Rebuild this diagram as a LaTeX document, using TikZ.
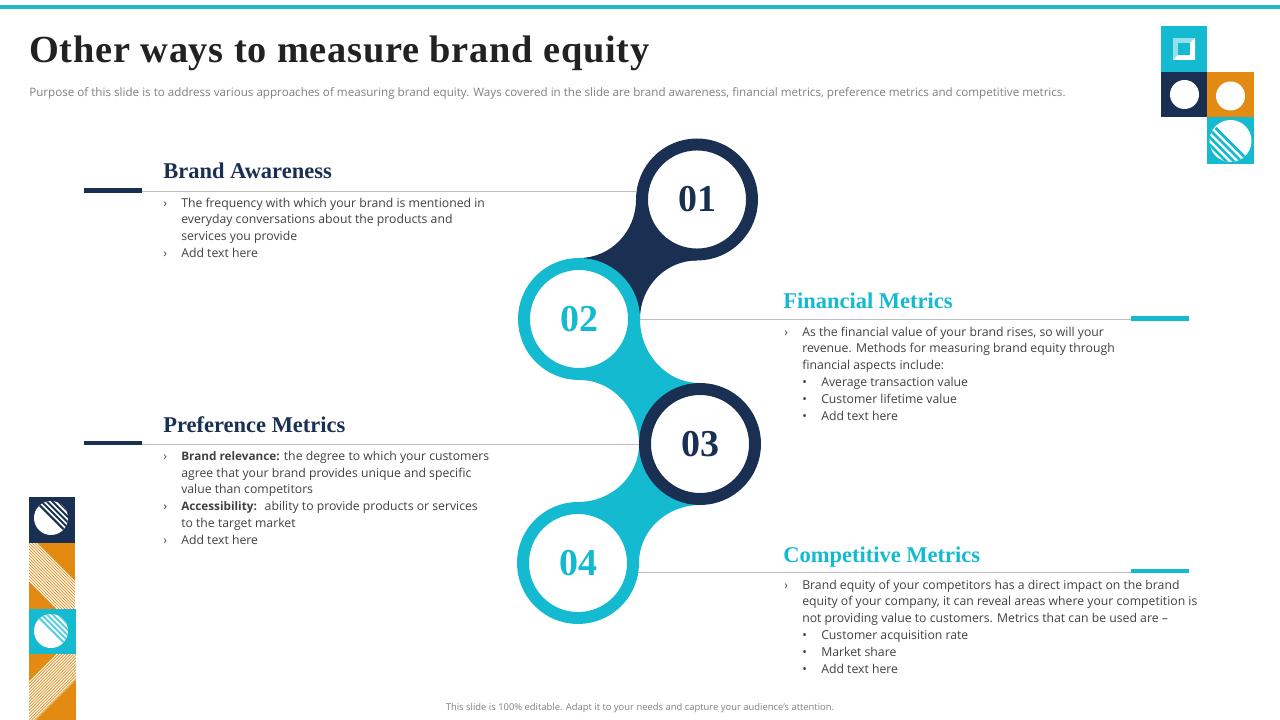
\documentclass[tikz,border=0pt]{standalone}
\usepackage{fontspec}
\setmainfont{Open Sans}
\newfontfamily\titlefont[LetterSpace=1.9]{Liberation Serif}
\newfontfamily\headfont{Liberation Serif}
\usetikzlibrary{backgrounds}
\definecolor{navy}{HTML}{1A3052}
\definecolor{teal}{HTML}{14BAD0}
\definecolor{topteal}{HTML}{22B8C8}
\definecolor{amber}{HTML}{E38A12}
\definecolor{rulegray}{HTML}{BDBDBD}
\definecolor{bodygray}{HTML}{404040}
\definecolor{notegray}{HTML}{7F7F7F}
\definecolor{titlegray}{HTML}{222222}
\tikzset{
  ringnode/.style={circle, fill=white, line width=8.5pt, minimum size=2.75cm, inner sep=0pt, font=\headfont\fontsize{27}{30}\selectfont\bfseries},
  barnode/.style={rectangle, minimum width=1.45cm, minimum height=0.115cm, inner sep=0pt},
  headnode/.style={anchor=base west, inner sep=0pt, font=\headfont\fontsize{16}{18}\selectfont\bfseries},
  bodynode/.style={anchor=north west, inner sep=0pt, align=left, text=bodygray, font=\fontsize{8.7}{11.95}\selectfont},
}
\newcommand{\arrowitem}{\makebox[12.8pt][l]{›}}
\newcommand{\hangitem}{\hspace*{12.8pt}}
\newcommand{\dotitem}{\hspace*{12.8pt}\makebox[13.5pt][l]{•}}
\newcommand{\boldlabel}[1]{{\fontsize{8.35}{11.95}\selectfont\bfseries #1}}
\begin{document}
\begin{tikzpicture}[x=0.025cm, y=-0.025cm]
\useasboundingbox (0,0) rectangle (1280,720);
\fill[topteal] (0,5) rectangle (1280,9);
% title
\node[anchor=base west, inner sep=0pt, text=titlegray] (title) at (29,63) {\titlefont\fontsize{27.3}{30}\selectfont\bfseries Other ways to measure brand equity};
\node[anchor=base west, inner sep=0pt, text=notegray, font=\fontsize{8.27}{10}\selectfont] (purpose) at (29,97) {Purpose of this slide is to address various approaches of measuring brand equity. Ways covered in the slide are brand awareness, financial metrics, preference metrics and competitive metrics.};
% top right squares
\fill[teal] (1161,26) rectangle (1207,72);
\fill[white!55!teal] (1173,38) rectangle (1195,60);
\fill[white] (1195,38) -- (1195,60) -- (1173,60) -- (1178,55) -- (1190,55) -- (1190,43) -- cycle;
\fill[teal] (1178,43) rectangle (1190,55);
\fill[navy] (1161,72) rectangle (1207,117);
\fill[white] (1184.5,94.5) circle (14.5);
\fill[amber] (1207,72) rectangle (1254,117);
\fill[white] (1230.5,96) circle (14.5);
\fill[teal] (1207,117) rectangle (1254,164);
\fill[white] (1230.5,141) circle (21);
\begin{scope}
\clip (1230.5,141) circle (21);
\draw[teal, line width=30pt, dash pattern=on 1.9pt off 1.9pt] (1231.5,142) -- (1210,163.5);
\end{scope}
% left strip
\fill[navy] (29,497) rectangle (75,543);
\fill[white] (51,518) circle (17);
\begin{scope}
\clip (51,518) circle (17);
\draw[navy, line width=26pt, dash pattern=on 1.4pt off 1.4pt] (50,517) -- (68,499);
\end{scope}
\fill[amber] (29,543) rectangle (75,609);
\begin{scope}
\clip (29,543) rectangle (75,609);
\draw[white, line width=75pt, dash pattern=on 0.75pt off 0.75pt] (61.25,567.25) -- (37.75,590.75);
\end{scope}
\fill[teal] (29,609) rectangle (76,654);
\fill[white] (51,631) circle (17);
\begin{scope}
\clip (51,631) circle (17);
\draw[teal!70!white, line width=26pt, dash pattern=on 1.4pt off 1.4pt] (50,630) -- (68,612);
\end{scope}
\fill[amber] (29,654) rectangle (76,720);
\begin{scope}
\clip (29,654) rectangle (76,720);
\draw[white, line width=75pt, dash pattern=on 0.75pt off 0.75pt] (40.75,669.75) -- (63.25,692.25);
\end{scope}
% rings
\node[ringnode, draw=navy, text=navy] (c01) at (697,199.5) {01};
\node[ringnode, draw=teal, text=teal] (c02) at (579,319) {02};
\node[ringnode, draw=navy, text=navy] (c03) at (700,444) {03};
\node[ringnode, draw=teal, text=teal] (c04) at (578,563) {04};
\begin{scope}[on background layer]
\fill[navy] (c01.west) to[out=-90,in=0] (c02.north) -- (c02.east) to[out=90,in=180] (c01.south) -- cycle;
\fill[teal] (c02.east) to[out=-90,in=180] (c03.north) -- (c03.west) to[out=90,in=0] (c02.south) -- cycle;
\fill[teal] (c03.west) to[out=-90,in=0] (c04.north) -- (c04.east) to[out=90,in=180] (c03.south) -- cycle;
\end{scope}
% bars and rules
\node[barnode, fill=navy] (bar01) at (113,190.4) {};
\node[barnode, fill=teal] (bar02) at (1160,318.4) {};
\node[barnode, fill=navy] (bar03) at (113,443) {};
\node[barnode, fill=teal] (bar04) at (1160,571) {};
\draw[rulegray, line width=0.6pt] (bar01.east |- c01.172) -- (c01.172);
\draw[rulegray, line width=0.6pt] (c02.east) -- (bar02.west |- c02.east);
\draw[rulegray, line width=0.6pt] (bar03.east |- c03.west) -- (c03.west);
\draw[rulegray, line width=0.6pt] (c04.-9) -- (bar04.west |- c04.-9);
% brand awareness
\node[headnode, text=navy] (head01) at (163,178.5) {Brand Awareness};
\node[bodynode] (text01) at (163,197.5) {\arrowitem The frequency with which your brand is mentioned in\\
\hangitem everyday conversations about the products and\\
\hangitem services you provide\\
\arrowitem Add text here};
% financial metrics
\node[headnode, text=teal] (head02) at (783,308.5) {Financial Metrics};
\node[bodynode] (text02) at (784,326.5) {\arrowitem As the financial value of your brand rises, so will your\\
\hangitem revenue. Methods for measuring brand equity through\\
\hangitem financial aspects include:\\
\dotitem Average transaction value\\
\dotitem Customer lifetime value\\
\dotitem Add text here};
% preference metrics
\node[headnode, text=navy] (head03) at (163,432.5) {Preference Metrics};
\node[bodynode] (text03) at (163,450.8) {\arrowitem \boldlabel{Brand relevance:} the degree to which your customers\\
\hangitem agree that your brand provides unique and specific\\
\hangitem value than competitors\\
\arrowitem \boldlabel{Accessibility:}\hspace{2.5pt} ability to provide products or services\\
\hangitem to the target market\\
\arrowitem Add text here};
% competitive metrics
\node[headnode, text=teal] (head04) at (783,562.5) {Competitive Metrics};
\node[bodynode] (text04) at (784,579.5) {\arrowitem Brand equity of your competitors has a direct impact on the brand\\
\hangitem equity of your company, it can reveal areas where your competition is\\
\hangitem not providing value to customers. Metrics that can be used are --\\
\dotitem Customer acquisition rate\\
\dotitem Market share\\
\dotitem Add text here};
% footer
\node[text=notegray, inner sep=0pt, font=\fontsize{6.7}{8}\selectfont] (footer) at (640,708.5) {This slide is 100\% editable. Adapt it to your needs and capture your audience's attention.};
\end{tikzpicture}
\end{document}
